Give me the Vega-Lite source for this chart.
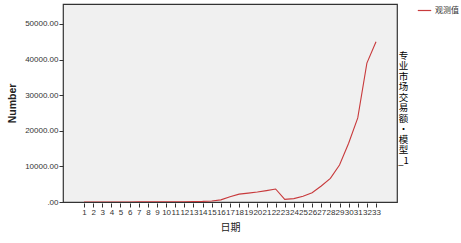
{
  "$schema": "https://vega.github.io/schema/vega-lite/v6.json",
  "width": 334,
  "height": 198,
  "autosize": {"type": "none"},
  "padding": {"left": 63, "top": 4, "right": 64, "bottom": 41},
  "background": "white",
  "config": {
    "view": {"fill": "#f0f0f0", "stroke": "#333333", "strokeWidth": 1.2},
    "font": "Liberation Sans"
  },
  "data": {
    "values": [
      {"day": 1, "value": 5, "series": "观测值"},
      {"day": 2, "value": 8, "series": "观测值"},
      {"day": 3, "value": 10, "series": "观测值"},
      {"day": 4, "value": 12, "series": "观测值"},
      {"day": 5, "value": 15, "series": "观测值"},
      {"day": 6, "value": 20, "series": "观测值"},
      {"day": 7, "value": 25, "series": "观测值"},
      {"day": 8, "value": 30, "series": "观测值"},
      {"day": 9, "value": 40, "series": "观测值"},
      {"day": 10, "value": 50, "series": "观测值"},
      {"day": 11, "value": 70, "series": "观测值"},
      {"day": 12, "value": 90, "series": "观测值"},
      {"day": 13, "value": 120, "series": "观测值"},
      {"day": 14, "value": 170, "series": "观测值"},
      {"day": 15, "value": 300, "series": "观测值"},
      {"day": 16, "value": 600, "series": "观测值"},
      {"day": 17, "value": 1500, "series": "观测值"},
      {"day": 18, "value": 2200, "series": "观测值"},
      {"day": 19, "value": 2500, "series": "观测值"},
      {"day": 20, "value": 2800, "series": "观测值"},
      {"day": 21, "value": 3200, "series": "观测值"},
      {"day": 22, "value": 3650, "series": "观测值"},
      {"day": 23, "value": 750, "series": "观测值"},
      {"day": 24, "value": 950, "series": "观测值"},
      {"day": 25, "value": 1600, "series": "观测值"},
      {"day": 26, "value": 2600, "series": "观测值"},
      {"day": 27, "value": 4500, "series": "观测值"},
      {"day": 28, "value": 6650, "series": "观测值"},
      {"day": 29, "value": 10400, "series": "观测值"},
      {"day": 30, "value": 16500, "series": "观测值"},
      {"day": 31, "value": 23600, "series": "观测值"},
      {"day": 32, "value": 39000, "series": "观测值"},
      {"day": 33, "value": 45000, "series": "观测值"}
    ]
  },
  "encoding": {
    "x": {
      "field": "day",
      "type": "quantitative",
      "scale": {"domain": [-1.3, 35.3], "nice": false, "zero": false},
      "axis": {
        "values": [1,2,3,4,5,6,7,8,9,10,11,12,13,14,15,16,17,18,19,20,21,22,23,24,25,26,27,28,29,30,31,32,33],
        "domain": false,
        "grid": false,
        "ticks": true,
        "tickSize": 4,
        "tickColor": "#333333",
        "offset": 1,
        "labelFontSize": 8,
        "labelColor": "#333333",
        "labelPadding": 1,
        "labelOverlap": false,
        "labelFlush": false,
        "title": "日期",
        "titleFont": "Noto Sans CJK SC",
        "titleFontSize": 10,
        "titleFontWeight": "normal",
        "titleColor": "#222222",
        "titlePadding": 6
      }
    }
  },
  "layer": [
    {
      "mark": {"type": "line", "strokeWidth": 1.1, "clip": true},
      "encoding": {
        "y": {
          "field": "value",
          "type": "quantitative",
          "scale": {"domain": [0, 55600], "nice": false},
          "axis": {
            "values": [0, 10000, 20000, 30000, 40000, 50000],
            "labelExpr": "datum.value == 0 ? '.00' : format(datum.value, '.2f')",
            "domain": false,
            "grid": false,
            "tickSize": 4,
            "tickColor": "#333333",
            "labelFontSize": 8,
            "labelColor": "#333333",
            "labelPadding": 1,
            "title": "Number",
            "titleFontSize": 10.5,
            "titleFontWeight": "bold",
            "titleColor": "#222222",
            "titlePadding": 7
          }
        },
        "color": {
          "field": "series",
          "type": "nominal",
          "scale": {"range": ["#c83a3c"]},
          "legend": {
            "title": null,
            "orient": "none",
            "legendX": 354,
            "legendY": -1,
            "symbolType": "stroke",
            "symbolSize": 180,
            "symbolStrokeWidth": 1.2,
            "labelFont": "Noto Sans CJK SC",
            "labelFontSize": 8,
            "labelColor": "#333333",
            "labelOffset": 3
          }
        }
      }
    },
    {
      "mark": {"type": "line", "opacity": 0, "clip": true},
      "encoding": {
        "y": {
          "field": "value",
          "type": "quantitative",
          "scale": {"domain": [0, 55600], "nice": false},
          "axis": {
            "orient": "right",
            "labels": false,
            "ticks": false,
            "domain": false,
            "grid": false,
            "title": ["专", "业", "市", "场", "交", "易", "额", "·", "模", "型", "_1"],
            "titleAngle": 0,
            "titleFont": "Noto Sans CJK SC",
            "titleFontSize": 9.5,
            "titleLineHeight": 10.5,
            "titleFontWeight": "normal",
            "titleColor": "#000000",
            "titleX": 6,
            "titleY": 46,
            "titleAlign": "center",
            "titleBaseline": "top"
          }
        }
      }
    }
  ],
  "resolve": {"scale": {"y": "independent"}}
}
